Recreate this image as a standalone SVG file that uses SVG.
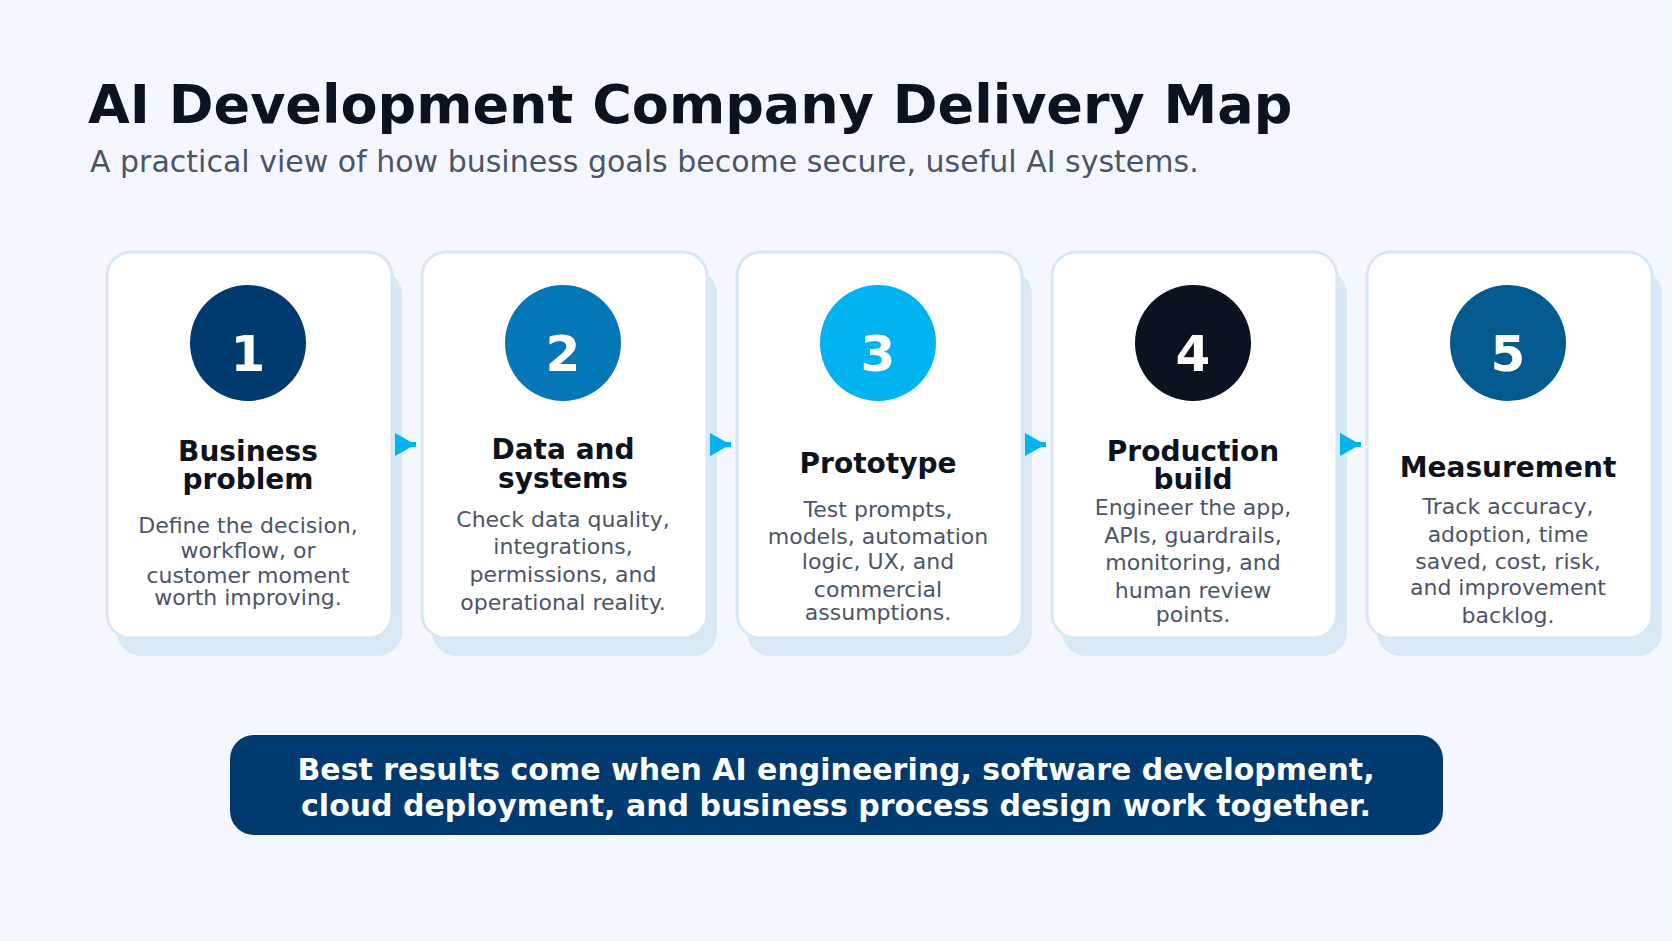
<svg xmlns="http://www.w3.org/2000/svg" width="1672" height="941" viewBox="0 0 1672 941">
<style>
text{font-family:"DejaVu Sans",sans-serif;text-anchor:middle}
.sh{fill:#d8e9f5}
.cd{fill:#fff;stroke:#d6e8f6;stroke-width:3}
.num{font-size:50px;font-weight:bold;fill:#fff}
.t{font-size:28px;font-weight:bold;fill:#0b1220}
.d{font-size:22px;fill:#4b5567}
.ar{fill:#00b4f0}
</style>
<rect width="1672" height="941" fill="#f4f8fe"/>
<text x="88" y="123" style="text-anchor:start;font-size:54px;font-weight:bold;fill:#0b1220">AI Development Company Delivery Map</text>
<text x="90" y="172" style="text-anchor:start;font-size:30px;fill:#4b5567">A practical view of how business goals become secure, useful AI systems.</text>
<g id="node1">
<rect class="sh" x="117" y="270" width="285" height="386" rx="24"/>
<rect class="cd" x="107" y="252" width="285" height="386" rx="24"/>
<circle cx="248" cy="343" r="58" fill="#003a6e"/>
<text class="num" x="248" y="371">1</text>
<text class="t" x="248" y="461">Business</text><text class="t" x="248" y="489">problem</text>
<text class="d" x="248" y="533">Define the decision,</text><text class="d" x="248" y="558">workflow, or</text><text class="d" x="248" y="583">customer moment</text><text class="d" x="248" y="605">worth improving.</text>
</g>
<g id="node2">
<rect class="sh" x="432" y="270" width="285" height="386" rx="24"/>
<rect class="cd" x="422" y="252" width="285" height="386" rx="24"/>
<circle cx="563" cy="343" r="58" fill="#0477b6"/>
<text class="num" x="563" y="371">2</text>
<text class="t" x="563" y="459">Data and</text><text class="t" x="563" y="488">systems</text>
<text class="d" x="563" y="527">Check data quality,</text><text class="d" x="563" y="554">integrations,</text><text class="d" x="563" y="582">permissions, and</text><text class="d" x="563" y="610">operational reality.</text>
</g>
<g id="node3">
<rect class="sh" x="747" y="270" width="285" height="386" rx="24"/>
<rect class="cd" x="737" y="252" width="285" height="386" rx="24"/>
<circle cx="878" cy="343" r="58" fill="#00b4f0"/>
<text class="num" x="878" y="371">3</text>
<text class="t" x="878" y="473">Prototype</text>
<text class="d" x="878" y="517">Test prompts,</text><text class="d" x="878" y="544">models, automation</text><text class="d" x="878" y="569">logic, UX, and</text><text class="d" x="878" y="597">commercial</text><text class="d" x="878" y="620">assumptions.</text>
</g>
<g id="node4">
<rect class="sh" x="1062" y="270" width="285" height="386" rx="24"/>
<rect class="cd" x="1052" y="252" width="285" height="386" rx="24"/>
<circle cx="1193" cy="343" r="58" fill="#0b1220"/>
<text class="num" x="1193" y="371">4</text>
<text class="t" x="1193" y="461">Production</text><text class="t" x="1193" y="489">build</text>
<text class="d" x="1193" y="515">Engineer the app,</text><text class="d" x="1193" y="543">APIs, guardrails,</text><text class="d" x="1193" y="570">monitoring, and</text><text class="d" x="1193" y="598">human review</text><text class="d" x="1193" y="622">points.</text>
</g>
<g id="node5">
<rect class="sh" x="1377" y="270" width="285" height="386" rx="24"/>
<rect class="cd" x="1367" y="252" width="285" height="386" rx="24"/>
<circle cx="1508" cy="343" r="58" fill="#025a8e"/>
<text class="num" x="1508" y="371">5</text>
<text class="t" x="1508" y="477">Measurement</text>
<text class="d" x="1508" y="514">Track accuracy,</text><text class="d" x="1508" y="542">adoption, time</text><text class="d" x="1508" y="569">saved, cost, risk,</text><text class="d" x="1508" y="595">and improvement</text><text class="d" x="1508" y="623">backlog.</text>
</g>
<g id="connectors">
<path class="ar" d="M395 433 L411 442 L416 442 L416 447 L411 447 L395 456 Z"/>
<path class="ar" d="M710 433 L726 442 L731 442 L731 447 L726 447 L710 456 Z"/>
<path class="ar" d="M1025 433 L1041 442 L1046 442 L1046 447 L1041 447 L1025 456 Z"/>
<path class="ar" d="M1340 433 L1356 442 L1361 442 L1361 447 L1356 447 L1340 456 Z"/>
</g>
<g id="banner">
<rect x="230" y="735" width="1213" height="100" rx="24" fill="#003a6e"/>
<text x="836" y="780" style="font-size:30px;font-weight:bold;fill:#fff">Best results come when AI engineering, software development,</text>
<text x="836" y="816" style="font-size:30px;font-weight:bold;fill:#fff">cloud deployment, and business process design work together.</text>
</g>
</svg>
